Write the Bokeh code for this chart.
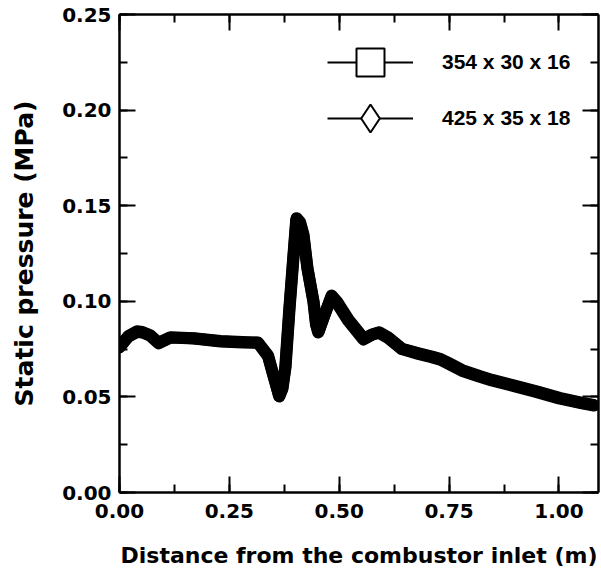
from bokeh.plotting import figure
from bokeh.models import (LinearAxis, SingleIntervalTicker, NumeralTickFormatter,
                          CustomJSTickFormatter, Legend, LegendItem, Range1d)
from bokeh.embed import file_html
from bokeh.resources import INLINE

# ---- data ----
x_354 = [0.000, 0.020, 0.040, 0.052, 0.070, 0.089, 0.116, 0.169, 0.230, 0.280, 0.315,
         0.338, 0.352, 0.363, 0.370, 0.377, 0.386, 0.395, 0.402, 0.410, 0.418, 0.427,
         0.441, 0.447, 0.452, 0.465, 0.482, 0.495, 0.520, 0.555, 0.575, 0.590, 0.610,
         0.642, 0.680, 0.710, 0.730, 0.750, 0.779, 0.820, 0.847, 0.900, 0.950, 1.000, 1.050, 1.080]
y_354 = [0.0758, 0.0815, 0.0840, 0.0837, 0.0820, 0.0780, 0.0810, 0.0805, 0.0790, 0.0785, 0.0785,
         0.0717, 0.0600, 0.0505, 0.0540, 0.0650, 0.0950, 0.1220, 0.1425, 0.1410, 0.1350, 0.1180,
         0.1000, 0.0880, 0.0837, 0.0920, 0.1025, 0.0990, 0.0900, 0.0800, 0.0825, 0.0835, 0.0810,
         0.0750, 0.0725, 0.0708, 0.0695, 0.0672, 0.0637, 0.0605, 0.0586, 0.0555, 0.0525, 0.0492, 0.0468, 0.0455]

x_425 = [0.000, 0.020, 0.040, 0.052, 0.070, 0.089, 0.116, 0.169, 0.230, 0.280, 0.315,
         0.338, 0.352, 0.364, 0.371, 0.378, 0.387, 0.396, 0.403, 0.411, 0.419, 0.428,
         0.442, 0.448, 0.453, 0.466, 0.483, 0.496, 0.521, 0.556, 0.576, 0.591, 0.611,
         0.643, 0.681, 0.711, 0.731, 0.751, 0.780, 0.821, 0.848, 0.901, 0.951, 1.001, 1.051, 1.078]
y_425 = [0.0762, 0.0818, 0.0843, 0.0840, 0.0822, 0.0783, 0.0812, 0.0807, 0.0792, 0.0787, 0.0783,
         0.0712, 0.0595, 0.0502, 0.0545, 0.0660, 0.0960, 0.1230, 0.1435, 0.1415, 0.1345, 0.1170,
         0.0995, 0.0875, 0.0840, 0.0925, 0.1030, 0.0995, 0.0905, 0.0805, 0.0828, 0.0838, 0.0812,
         0.0752, 0.0728, 0.0711, 0.0698, 0.0675, 0.0640, 0.0608, 0.0589, 0.0558, 0.0528, 0.0495, 0.0470, 0.0458]

labels = ["354 x 30 x 16", "425 x 35 x 18"]
x_title = "Distance from the combustor inlet (m)"
y_title = "Static pressure (MPa)"

FONT = "DejaVu Sans"

p = figure(width=600, height=576, output_backend="svg", toolbar_location=None,
           x_range=Range1d(0, 1.09), y_range=Range1d(0, 0.25),
           x_axis_location=None, y_axis_location=None,
           min_border_left=119, min_border_right=2, min_border_top=14, min_border_bottom=84)
p.outline_line_color = None
p.xgrid.visible = False
p.ygrid.visible = False
p.background_fill_color = "white"
p.border_fill_color = "white"


def style_axis(ax, show_labels):
    ax.axis_line_width = 2.5
    ax.axis_line_color = "black"
    ax.major_tick_in = 16
    ax.major_tick_out = 0
    ax.minor_tick_in = 8
    ax.minor_tick_out = 0
    ax.major_tick_line_width = 2
    ax.minor_tick_line_width = 2
    ax.major_tick_line_color = "black"
    ax.minor_tick_line_color = "black"
    if show_labels:
        ax.major_label_text_font = FONT
        ax.major_label_text_font_style = "bold"
        ax.major_label_text_font_size = "20px"
        ax.major_label_text_color = "black"
        ax.axis_label_text_font = FONT
        ax.axis_label_text_font_style = "bold"
        ax.axis_label_text_color = "black"
    else:
        ax.formatter = CustomJSTickFormatter(code="return ''")
        ax.major_label_standoff = 0


xb = LinearAxis(ticker=SingleIntervalTicker(interval=0.25, num_minor_ticks=2),
                formatter=NumeralTickFormatter(format="0.00"), axis_label=x_title)
style_axis(xb, True)
xb.axis_label_text_font_size = "22px"
xb.major_label_standoff = 11
xb.axis_label_standoff = 22
p.add_layout(xb, "below")

xt = LinearAxis(ticker=SingleIntervalTicker(interval=0.25, num_minor_ticks=2))
style_axis(xt, False)
p.add_layout(xt, "above")

yl = LinearAxis(ticker=SingleIntervalTicker(interval=0.05, num_minor_ticks=2),
                formatter=NumeralTickFormatter(format="0.00"), axis_label=y_title)
style_axis(yl, True)
yl.axis_label_text_font_size = "25px"
yl.major_label_standoff = 8
yl.axis_label_standoff = 20
p.add_layout(yl, "left")

yr = LinearAxis(ticker=SingleIntervalTicker(interval=0.05, num_minor_ticks=2))
style_axis(yr, False)
p.add_layout(yr, "right")

# thin lines and markers (used by the legend), then the dense thick data band on top
l1 = p.line(x_354, y_354, line_color="black", line_width=2)
m1 = p.scatter(x_354, y_354, marker="square", size=6, line_color="black",
               fill_color="white", line_width=2)
l2 = p.line(x_425, y_425, line_color="black", line_width=2)
m2 = p.scatter(x_425, y_425, marker="diamond", size=6, line_color="black",
               fill_color="white", line_width=2)
p.line(x_354, y_354, line_color="black", line_width=12, line_join="round", line_cap="round")
p.line(x_425, y_425, line_color="black", line_width=12, line_join="round", line_cap="round")


def make_legend(label, rs, loc):
    return Legend(items=[LegendItem(label=label, renderers=rs)],
                  location=loc, glyph_width=86, glyph_height=70,
                  label_standoff=29, padding=0, margin=0,
                  border_line_color=None, background_fill_alpha=0,
                  label_text_font="Liberation Sans", label_text_font_style="bold",
                  label_text_font_size="21px", label_text_color="black")


p.add_layout(make_legend(labels[0], [l1, m1], (208, 395)))
p.add_layout(make_legend(labels[1], [l2, m2], (208, 339)))

open("out.html", "w").write(file_html(p, INLINE))
